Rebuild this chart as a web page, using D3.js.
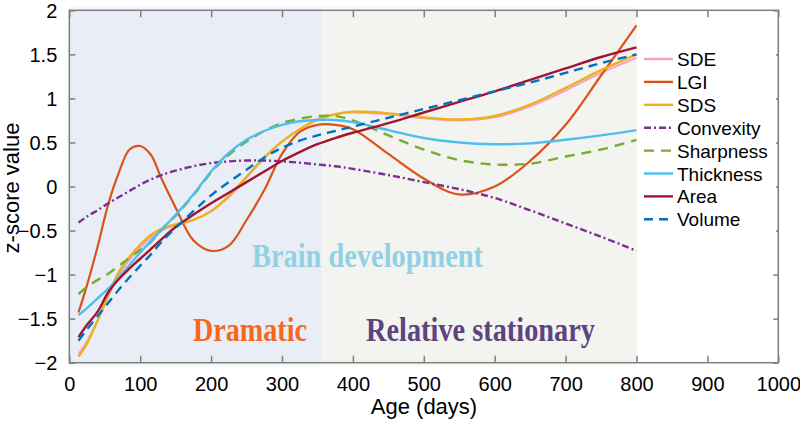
<!DOCTYPE html>
<html><head><meta charset="utf-8">
<script src="https://cdn.jsdelivr.net/npm/d3@7"></script>
<style>body{margin:0;background:#fff}svg{display:block}</style>
</head><body><svg id="c" width="800" height="423"></svg>
<script>
const ages = [13,25,40,55,70,85,100,115,130,150,175,200,225,250,275,300,325,350,375,400,450,500,550,600,650,700,750,800];
const seriesNames = ["SDE","LGI","SDS","Convexity","Sharpness","Thickness","Area","Volume"];
const SDE =       [-1.90,-1.76,-1.52,-1.25,-1.00,-0.83,-0.69,-0.58,-0.50,-0.44,-0.38,-0.28,-0.12,0.10,0.32,0.51,0.65,0.76,0.82,0.84,0.82,0.775,0.75,0.785,0.91,1.09,1.29,1.46];
const LGI =       [-1.43,-1.12,-0.68,-0.20,0.16,0.42,0.46,0.36,0.09,-0.24,-0.61,-0.73,-0.67,-0.38,-0.04,0.37,0.62,0.70,0.70,0.65,0.37,0.09,-0.09,0.00,0.29,0.70,1.26,1.83];
const SDS =       [-1.93,-1.78,-1.52,-1.23,-0.97,-0.80,-0.66,-0.55,-0.48,-0.43,-0.38,-0.28,-0.11,0.11,0.33,0.51,0.65,0.76,0.82,0.85,0.83,0.785,0.76,0.80,0.93,1.12,1.32,1.50];
const Convexity = [-0.41,-0.34,-0.27,-0.19,-0.12,-0.05,0.02,0.08,0.13,0.18,0.23,0.265,0.285,0.295,0.295,0.285,0.27,0.25,0.23,0.20,0.13,0.05,-0.03,-0.13,-0.27,-0.42,-0.57,-0.73];
const Sharpness = [-1.22,-1.14,-1.06,-0.99,-0.90,-0.81,-0.72,-0.63,-0.49,-0.33,-0.10,0.16,0.36,0.51,0.63,0.72,0.77,0.80,0.80,0.75,0.58,0.42,0.30,0.25,0.26,0.34,0.42,0.53];
const Thickness = [-1.46,-1.38,-1.27,-1.16,-1.03,-0.89,-0.75,-0.62,-0.49,-0.32,-0.09,0.17,0.38,0.53,0.63,0.70,0.74,0.755,0.755,0.73,0.64,0.55,0.50,0.48,0.49,0.53,0.58,0.64];
const Area =      [-1.71,-1.57,-1.42,-1.20,-1.05,-0.93,-0.82,-0.71,-0.60,-0.46,-0.32,-0.19,-0.07,0.05,0.17,0.29,0.39,0.48,0.55,0.61,0.72,0.84,0.96,1.08,1.21,1.34,1.47,1.58];
const Volume =    [-1.75,-1.62,-1.47,-1.32,-1.17,-1.03,-0.90,-0.77,-0.63,-0.47,-0.28,-0.10,0.05,0.19,0.33,0.44,0.52,0.58,0.63,0.68,0.78,0.88,0.98,1.08,1.18,1.29,1.40,1.50];
const xTicks = [0,100,200,300,400,500,600,700,800,900,1000];
const yTicks = [-2,-1.5,-1,-0.5,0,0.5,1,1.5,2];
const phases = [{from:0,to:355},{from:355,to:800}];
const colors = ["#f59fc6","#d95319","#edb120","#7e2f8e","#77ac30","#4dbeee","#a2142f","#0072bd"];
const dashes = [null,null,null,"7,3,2,3","10,7",null,null,"9,6"];
const widths = [2,2.2,2.4,2.4,2.4,2.4,2.4,2.4];
const values = [SDE,LGI,SDS,Convexity,Sharpness,Thickness,Area,Volume];

const svg = d3.select("#c");
const L=69.3, R=778.3, T=10.3, B=362.7;
const x = d3.scaleLinear().domain([0,1000]).range([L,R]);
const y = d3.scaleLinear().domain([-2,2]).range([B,T]);

// phase shading
const phaseCols = ["#e9eef6","#f3f3ef"];
phases.forEach((p,i)=>{
  svg.append("rect").attr("x",x(p.from)).attr("y",T-4).attr("width",x(p.to)-x(p.from)).attr("height",B-T+8)
    .attr("fill",phaseCols[i]).attr("opacity",0.5);
  svg.append("rect").attr("x",x(p.from)).attr("y",T).attr("width",x(p.to)-x(p.from)).attr("height",B-T)
    .attr("fill",phaseCols[i]);
});

// annotations
const ann = svg.append("g").attr("font-family","'Liberation Serif','Times New Roman',serif").attr("font-weight","bold").attr("font-size",33);
ann.append("text").attr("x",252).attr("y",267).attr("textLength",231).attr("lengthAdjust","spacingAndGlyphs").attr("fill","#92d0e3").text("Brain development");
ann.append("text").attr("x",193).attr("y",341).attr("textLength",114).attr("lengthAdjust","spacingAndGlyphs").attr("fill","#f5681e").text("Dramatic");
ann.append("text").attr("x",366).attr("y",341).attr("textLength",229).attr("lengthAdjust","spacingAndGlyphs").attr("fill","#5c4481").text("Relative stationary");

// lines
const line = d3.line().x((d,i)=>x(ages[i])).y(d=>y(d)).curve(d3.curveCatmullRom.alpha(0.5));
values.forEach((v,k)=>{
  svg.append("path").attr("d",line(v)).attr("fill","none").attr("stroke",colors[k])
    .attr("stroke-width",widths[k]).attr("stroke-dasharray",dashes[k]);
});

// axes box
const axCol="#7f7f7f";
svg.append("rect").attr("x",L).attr("y",T).attr("width",R-L).attr("height",B-T).attr("fill","none").attr("stroke",axCol).attr("stroke-width",1.5);
const fontF="'Liberation Sans',Arial,Helvetica,sans-serif";
const xb = svg.append("g").attr("transform",`translate(0,${B})`).call(d3.axisBottom(x).tickValues(xTicks).tickSize(-7).tickPadding(14).tickFormat(d3.format("d")));
const xt = svg.append("g").attr("transform",`translate(0,${T})`).call(d3.axisTop(x).tickValues(xTicks).tickSize(-7).tickFormat(""));
const yl = svg.append("g").attr("transform",`translate(${L},0)`).call(d3.axisLeft(y).tickValues(yTicks).tickSize(-6).tickPadding(12).tickFormat(d=>d3.format("")(d)));
const yr = svg.append("g").attr("transform",`translate(${R},0)`).call(d3.axisRight(y).tickValues(yTicks).tickSize(-5).tickFormat(""));
[xb,xt,yl,yr].forEach(g=>{
  g.select(".domain").remove();
  g.selectAll(".tick line").attr("stroke",axCol).attr("stroke-width",1.5);
  g.selectAll(".tick text").attr("font-family",fontF).attr("font-size",20).attr("fill","#000");
});
yl.selectAll(".tick text").attr("dy","0.35em");

svg.append("text").attr("x",424).attr("y",414).attr("text-anchor","middle").attr("font-family",fontF).attr("font-size",22).text("Age (days)");
svg.append("text").attr("transform","translate(19,188) rotate(-90)").attr("text-anchor","middle").attr("font-family",fontF).attr("font-size",22).text("z-score value");

// legend
const lg = svg.append("g");
lg.append("rect").attr("x",638).attr("y",44).attr("width",138).attr("height",188).attr("fill","#fff");
seriesNames.forEach((n,k)=>{
  const cy = 59 + k*22.9;
  lg.append("line").attr("x1",644).attr("x2",673).attr("y1",cy).attr("y2",cy).attr("stroke",colors[k])
    .attr("stroke-width",2.4).attr("stroke-dasharray",dashes[k]);
  lg.append("text").attr("x",677).attr("y",cy+7).attr("font-family",fontF).attr("font-size",19).text(n);
});
</script></body></html>
